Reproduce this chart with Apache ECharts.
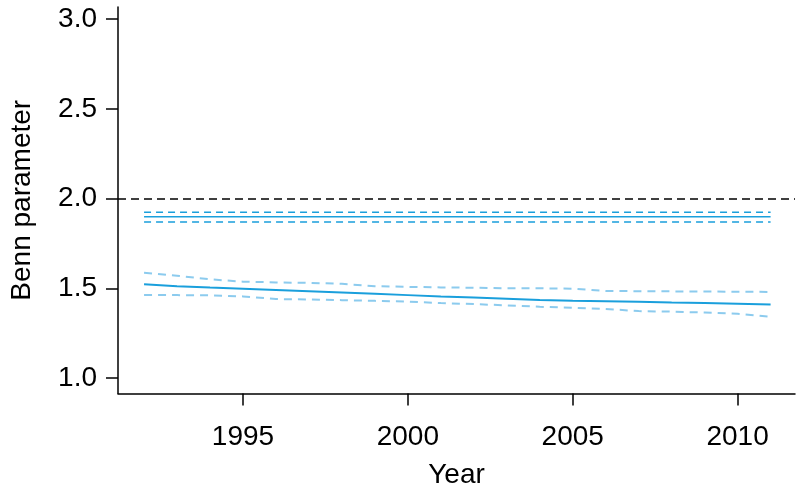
<!DOCTYPE html>
<html>
<head>
<meta charset="utf-8">
<script src="https://cdn.jsdelivr.net/npm/echarts@6/dist/echarts.min.js"></script>
<style>html,body{margin:0;padding:0;background:#fff}#c{width:798px;height:495px}</style>
</head>
<body>
<div id="c"></div>
<script>
var years = [1992,1993,1994,1995,1996,1997,1998,1999,2000,2001,2002,2003,2004,2005,2006,2007,2008,2009,2010,2011];
var estimate = [1.522,1.512,1.504,1.497,1.490,1.483,1.476,1.469,1.462,1.455,1.449,1.442,1.435,1.431,1.428,1.425,1.421,1.418,1.414,1.410];
var upperCI = [1.587,1.570,1.550,1.537,1.533,1.530,1.525,1.512,1.508,1.505,1.503,1.500,1.500,1.498,1.485,1.484,1.483,1.482,1.481,1.480];
var lowerCI = [1.462,1.462,1.461,1.455,1.440,1.438,1.434,1.430,1.426,1.418,1.412,1.405,1.397,1.392,1.385,1.373,1.370,1.365,1.358,1.342];
var constEst = 1.898, constUpper = 1.923, constLower = 1.870;
var refValue = 2.0;
var yTicks = [1.0, 1.5, 2.0, 2.5, 3.0];
var xTicks = [1995, 2000, 2005, 2010];

function pairs(vals){ return years.map(function(y,i){ return [y, vals[i]]; }); }
function constPairs(v){ return years.map(function(y){ return [y, v]; }); }

var font = 'Liberation Sans, Arial, Helvetica, sans-serif';
var fs = 28;
var chart = echarts.init(document.getElementById('c'));
chart.setOption({
  animation: false,
  grid: {left: 118, right: 3, top: 7, bottom: 101.5, containLabel: false},
  xAxis: {
    type: 'value', min: 1991.21, max: 2011.74,
    name: 'Year', nameLocation: 'middle', nameGap: 68,
    nameTextStyle: {fontFamily: font, fontSize: fs, color: '#000'},
    axisLine: {show: true, onZero: false, lineStyle: {color: '#000', width: 1.5}},
    axisTick: {show: true, length: 12, lineStyle: {color: '#000', width: 1.5},
      customValues: xTicks},
    axisLabel: {fontFamily: font, fontSize: fs, color: '#000', margin: 30,
      customValues: xTicks, formatter: function(v){ return String(v); }},
    splitLine: {show: false}
  },
  yAxis: {
    type: 'value', min: 0.914, max: 3.067,
    name: 'Benn parameter', nameLocation: 'middle', nameGap: 82,
    nameTextStyle: {fontFamily: font, fontSize: fs, color: '#000'},
    axisLine: {show: true, onZero: false, lineStyle: {color: '#000', width: 1.5}},
    axisTick: {show: true, length: 12, lineStyle: {color: '#000', width: 1.5},
      customValues: yTicks},
    axisLabel: {fontFamily: font, fontSize: fs, color: '#000', margin: 21,
      customValues: yTicks, formatter: function(v){ return v.toFixed(1); }},
    splitLine: {show: false}
  },
  series: [
    {type: 'line', data: pairs(estimate), symbol: 'none', lineStyle: {color: '#1a9fdc', width: 2},
     markLine: {silent: true, symbol: 'none', label: {show: false},
       lineStyle: {color: '#000', type: [8, 5], width: 1.5},
       data: [{yAxis: refValue}]}},
    {type: 'line', data: pairs(upperCI), symbol: 'none', lineStyle: {color: '#8ccbee', width: 2, type: [8, 6]}},
    {type: 'line', data: pairs(lowerCI), symbol: 'none', lineStyle: {color: '#8ccbee', width: 2, type: [8, 6]}},
    {type: 'line', data: constPairs(constEst), symbol: 'none', lineStyle: {color: '#1a9fdc', width: 1.5}},
    {type: 'line', data: constPairs(constUpper), symbol: 'none', lineStyle: {color: '#1a9fdc', width: 1.5, type: [7, 5]}},
    {type: 'line', data: constPairs(constLower), symbol: 'none', lineStyle: {color: '#1a9fdc', width: 1.5, type: [7, 5]}}
  ]
});
</script>
</body>
</html>
